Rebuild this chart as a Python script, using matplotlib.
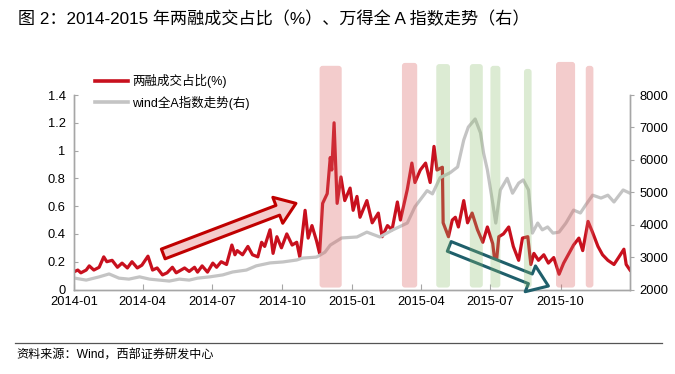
import matplotlib
matplotlib.use('Agg')
import matplotlib.pyplot as plt
import matplotlib.dates as mdates
from matplotlib.patches import FancyBboxPatch
from matplotlib.lines import Line2D
from matplotlib.transforms import IdentityTransform
import pandas as pd

plt.rcParams['font.family'] = ['Liberation Sans', 'Noto Sans CJK SC']

# ---------------- data ----------------
margin_dates = ['2014-01-02', '2014-01-06', '2014-01-10', '2014-01-17', '2014-01-21', '2014-01-27',
                '2014-02-03', '2014-02-09', '2014-02-13', '2014-02-20', '2014-02-27', '2014-03-05',
                '2014-03-12', '2014-03-18', '2014-03-25', '2014-03-31', '2014-04-08', '2014-04-14',
                '2014-04-20', '2014-04-27', '2014-05-03', '2014-05-10', '2014-05-15', '2014-05-26',
                '2014-06-01', '2014-06-08', '2014-06-12', '2014-06-18', '2014-06-25', '2014-07-02',
                '2014-07-07', '2014-07-13', '2014-07-20', '2014-07-27', '2014-07-31', '2014-08-03',
                '2014-08-10', '2014-08-17', '2014-08-23', '2014-08-30', '2014-09-04', '2014-09-08',
                '2014-09-15', '2014-09-19', '2014-09-24', '2014-09-30', '2014-10-07', '2014-10-14',
                '2014-10-20', '2014-10-24', '2014-10-31', '2014-11-04', '2014-11-09', '2014-11-15',
                '2014-11-19', '2014-11-23', '2014-11-29', '2014-12-03', '2014-12-05', '2014-12-08',
                '2014-12-12', '2014-12-17', '2014-12-22', '2014-12-29', '2015-01-02', '2015-01-07',
                '2015-01-11', '2015-01-20', '2015-01-27', '2015-02-04', '2015-02-09', '2015-02-16',
                '2015-02-22', '2015-03-01', '2015-03-05', '2015-03-14', '2015-03-20', '2015-03-24',
                '2015-03-31', '2015-04-07', '2015-04-13', '2015-04-18', '2015-04-22', '2015-04-29',
                '2015-04-30', '2015-05-07', '2015-05-12', '2015-05-16', '2015-05-20', '2015-05-27',
                '2015-06-01', '2015-06-07', '2015-06-14', '2015-06-21', '2015-06-27', '2015-07-04',
                '2015-07-08', '2015-07-12', '2015-07-18', '2015-07-25', '2015-07-31', '2015-08-07',
                '2015-08-12', '2015-08-19', '2015-08-23', '2015-08-27', '2015-09-02', '2015-09-09',
                '2015-09-15', '2015-09-22', '2015-09-29', '2015-10-05', '2015-10-12', '2015-10-18',
                '2015-10-25', '2015-10-30', '2015-11-06', '2015-11-12', '2015-11-19', '2015-11-25',
                '2015-12-02', '2015-12-10', '2015-12-16', '2015-12-23', '2015-12-26', '2015-12-31']
margin_ratio = [0.13, 0.14, 0.12, 0.14, 0.17, 0.14,
                0.16, 0.235, 0.20, 0.21, 0.16, 0.19,
                0.155, 0.20, 0.155, 0.175, 0.24, 0.14,
                0.155, 0.105, 0.12, 0.16, 0.12, 0.155,
                0.13, 0.16, 0.125, 0.17, 0.125, 0.19,
                0.16, 0.20, 0.18, 0.32, 0.25, 0.28,
                0.25, 0.31, 0.25, 0.235, 0.34, 0.31,
                0.43, 0.26, 0.38, 0.30, 0.40, 0.32,
                0.34, 0.235, 0.57, 0.37, 0.46, 0.35,
                0.26, 0.62, 0.69, 0.95, 0.86, 1.20,
                0.62, 0.81, 0.64, 0.73, 0.57, 0.67,
                0.52, 0.64, 0.48, 0.55, 0.38, 0.46,
                0.43, 0.63, 0.50, 0.72, 0.91, 0.77,
                0.86, 0.91, 0.77, 1.03, 0.86, 0.88,
                0.48, 0.38, 0.50, 0.52, 0.45, 0.64,
                0.48, 0.55, 0.43, 0.34, 0.45, 0.33,
                0.15, 0.38, 0.40, 0.45, 0.31, 0.21,
                0.37, 0.38, 0.18, 0.26, 0.21, 0.25,
                0.19, 0.23, 0.11, 0.19, 0.26, 0.32,
                0.37, 0.28, 0.49, 0.41, 0.31, 0.25,
                0.21, 0.18, 0.23, 0.29, 0.18, 0.14]

wind_dates = ['2014-01-02', '2014-01-17', '2014-02-03', '2014-02-16', '2014-03-01', '2014-03-14',
              '2014-03-28', '2014-04-10', '2014-04-23', '2014-05-06', '2014-05-19', '2014-06-01',
              '2014-06-12', '2014-06-28', '2014-07-15', '2014-07-28', '2014-08-15', '2014-08-28',
              '2014-09-15', '2014-10-02', '2014-10-20', '2014-10-28', '2014-11-15', '2014-11-26',
              '2014-12-03', '2014-12-18', '2015-01-07', '2015-01-20', '2015-02-06', '2015-02-23',
              '2015-03-14', '2015-03-24', '2015-04-09', '2015-04-16', '2015-04-26', '2015-05-09',
              '2015-05-19', '2015-05-27', '2015-06-02', '2015-06-11', '2015-06-18', '2015-06-22',
              '2015-06-27', '2015-07-04', '2015-07-08', '2015-07-14', '2015-07-23', '2015-07-30',
              '2015-08-07', '2015-08-13', '2015-08-20', '2015-08-25', '2015-09-01', '2015-09-07',
              '2015-09-14', '2015-09-21', '2015-09-29', '2015-10-08', '2015-10-18', '2015-10-27',
              '2015-11-03', '2015-11-12', '2015-11-23', '2015-12-02', '2015-12-10', '2015-12-22',
              '2015-12-31']
wind_index = [2350, 2290, 2390, 2480, 2350, 2320,
              2390, 2320, 2290, 2260, 2320, 2290,
              2350, 2390, 2450, 2540, 2600, 2730,
              2820, 2850, 2910, 2970, 3000, 3150,
              3370, 3590, 3620, 3770, 3620, 3840,
              4050, 4550, 5050, 4950, 5450, 5600,
              5780, 6610, 7010, 7260, 6830, 6210,
              5690, 4670, 4050, 5070, 5430, 4970,
              5280, 5380, 5070, 3740, 4050, 3840,
              3930, 3740, 3770, 4050, 4450, 4360,
              4610, 4910, 4820, 4910, 4700, 5070,
              4970]

red_band_starts = ['2014-11-19', '2015-03-07', '2015-09-25', '2015-11-03']
red_band_ends = ['2014-12-18', '2015-03-27', '2015-10-20', '2015-11-13']
green_band_starts = ['2015-04-21', '2015-06-04', '2015-07-01', '2015-08-14']
green_band_ends = ['2015-05-09', '2015-06-21', '2015-07-14', '2015-08-24']

x_ticks = ['2014-01-01', '2014-04-01', '2014-07-01', '2014-10-01',
           '2015-01-01', '2015-04-01', '2015-07-01', '2015-10-01']
left_ticks = [0, 0.2, 0.4, 0.6, 0.8, 1.0, 1.2, 1.4]
right_ticks = [2000, 3000, 4000, 5000, 6000, 7000, 8000]

title = '图 2：2014-2015 年两融成交占比（%）、万得全 A 指数走势（右）'
label_margin = '两融成交占比(%)'
label_wind = 'wind全A指数走势(右)'
source = '资料来源：Wind，西部证券研发中心'

# ---------------- figure ----------------
W, H = 675, 374
RED = '#C8101E'
GRAY = '#C4C4C4'
SPINE = '#A6A6A6'
fig = plt.figure(figsize=(W / 100, H / 100), dpi=100)
ax = fig.add_axes([74 / W, 1 - 289.5 / H, (630 - 74) / W, (289.5 - 95) / H])
ax2 = ax.twinx()

md = pd.to_datetime(margin_dates)
wd = pd.to_datetime(wind_dates)
ax.plot(md, margin_ratio, color=RED, lw=2.3, zorder=3)
ax2.plot(wd, wind_index, color=GRAY, lw=2.3, zorder=2)

ax.set_xlim(pd.Timestamp('2014-01-01'), pd.Timestamp('2015-12-31'))
ax.set_ylim(0, 1.4)
ax2.set_ylim(2000, 8000)
ax.set_xticks(pd.to_datetime(x_ticks))
ax.xaxis.set_major_formatter(mdates.DateFormatter('%Y-%m'))
ax.set_yticks(left_ticks)
ax.set_yticklabels([f'{v:g}' for v in left_ticks])
ax2.set_yticks(right_ticks)
ax2.set_yticklabels([str(v) for v in right_ticks])

for a in (ax, ax2):
    a.spines['top'].set_visible(False)
    for s in ('left', 'right', 'bottom'):
        a.spines[s].set_color(SPINE)
        a.spines[s].set_linewidth(1.0)
ax.tick_params(axis='y', direction='in', length=3, color=SPINE, labelsize=9.3, pad=6)
ax.tick_params(axis='x', direction='in', length=4, color=SPINE, labelsize=9.3, pad=5)
ax2.tick_params(axis='y', direction='out', length=3, color=SPINE, labelsize=9.3, pad=4)

# legend
handles = [Line2D([], [], color=RED, lw=2.6), Line2D([], [], color=GRAY, lw=2.6)]
fig.legend(handles, [label_margin, label_wind], loc='upper left',
           bbox_to_anchor=(95 / W, 1 - 74 / H), frameon=False, fontsize=9,
           handlelength=2.6, handletextpad=0.35, labelspacing=0.6,
           borderpad=0, borderaxespad=0)

# highlight bands (drawn over the lines, semi-transparent)
band_tops_red = [1.150, 1.165, 1.170, 1.150]
band_tops_green = [1.159, 1.159, 1.150, 1.134]
def add_band(start, end, top, face, alpha):
    x0 = ax.transData.transform((mdates.date2num(pd.Timestamp(start)), 0))[0]
    x1 = ax.transData.transform((mdates.date2num(pd.Timestamp(end)), 0))[0]
    y0 = ax.transAxes.transform((0, 0.01))[1]
    y1 = ax.transAxes.transform((0, top))[1]
    p = FancyBboxPatch((x0, y0), x1 - x0, y1 - y0,
                       boxstyle='round,pad=0,rounding_size=3',
                       transform=IdentityTransform(), facecolor=face,
                       edgecolor='none', alpha=alpha, zorder=5)
    fig.add_artist(p)

for s, e, t in zip(red_band_starts, red_band_ends, band_tops_red):
    add_band(s, e, t, '#DC6464', 0.33)
for s, e, t in zip(green_band_starts, green_band_ends, band_tops_green):
    add_band(s, e, t, '#8CBE6E', 0.30)

# arrows
ax2.annotate('', xy=(pd.Timestamp('2014-10-19'), 2000 + 0.62 / 1.4 * 6000),
             xytext=(pd.Timestamp('2014-04-28'), 2000 + 0.256 / 1.4 * 6000),
             arrowprops=dict(arrowstyle='simple,head_length=1.4,head_width=2.0,tail_width=0.75',
                             mutation_scale=10, fc='#F4CCCC', ec='#C00000', lw=2.2,
                             shrinkA=0, shrinkB=0), zorder=6)
ax2.annotate('', xy=(pd.Timestamp('2015-09-15'), 2000 + 0.025 / 1.4 * 6000),
             xytext=(pd.Timestamp('2015-05-08'), 2000 + 0.31 / 1.4 * 6000),
             arrowprops=dict(arrowstyle='simple,head_length=1.4,head_width=2.0,tail_width=0.75',
                             mutation_scale=10, fc='white', ec='#1F5F6B', lw=2.2,
                             shrinkA=0, shrinkB=0), zorder=6)

# title & footer
fig.text(18 / W, 1 - 19 / H, title, fontsize=12.3, va='center', ha='left')
fig.add_artist(Line2D([15 / W, 662 / W], [1 - 342.7 / H] * 2, color='#555555', lw=0.9,
                      transform=fig.transFigure))
fig.text(16 / W, 1 - 356 / H, source, fontsize=8.7, va='center', ha='left')

fig.savefig('out.png', dpi=100)
